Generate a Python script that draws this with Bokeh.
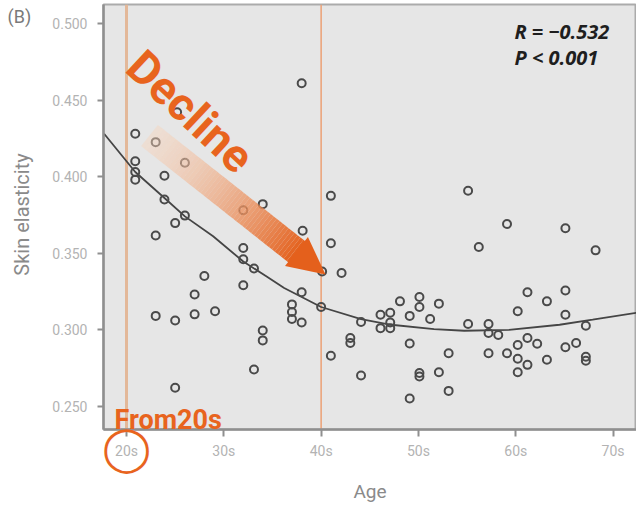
from bokeh.plotting import figure
from bokeh.models import Span, Label, Arrow, NormalHead, FixedTicker, LinearAxis
from bokeh.embed import file_html
from bokeh.resources import INLINE
import math

# ---------------- data ----------------
ages = [20.9, 23.0, 20.9, 26.0, 20.9, 20.9, 23.9, 23.9, 26.0, 25.0,
        23.0, 34.0, 32.0, 32.0, 32.0, 33.1, 28.0, 32.0, 27.0, 23.0,
        25.0, 27.0, 29.1, 34.0, 34.0, 33.1, 25.0, 25.2,
        38.0, 41.0, 38.1, 41.0, 42.1, 40.1, 38.0, 37.0, 37.0, 37.0,
        38.0, 40.0, 44.1, 43.0, 43.0, 41.0, 44.1,
        46.1, 46.1, 47.1, 47.1, 47.1, 48.1, 49.1, 49.1, 50.1, 50.1,
        51.2, 52.1, 50.1, 50.1, 52.1, 53.1, 53.1, 49.1,
        55.1, 56.2, 59.1, 65.1, 68.2, 55.1, 57.2, 57.2, 58.2, 57.2,
        59.1, 60.2, 60.2, 60.2, 60.2, 61.2, 61.2, 61.2, 62.2, 63.2,
        63.2, 65.1, 65.1, 65.1, 66.2, 67.2, 67.2, 67.2]
elasticity = [0.428, 0.4225, 0.410, 0.409, 0.403, 0.398, 0.4005, 0.385, 0.3745, 0.3696,
              0.3615, 0.382, 0.378, 0.3533, 0.346, 0.340, 0.335, 0.329, 0.323, 0.309,
              0.306, 0.310, 0.312, 0.2995, 0.293, 0.274, 0.262, 0.442,
              0.461, 0.3874, 0.3646, 0.3565, 0.337, 0.338, 0.3244, 0.3165, 0.3115, 0.307,
              0.3047, 0.3148, 0.305, 0.2945, 0.2913, 0.283, 0.270,
              0.3097, 0.301, 0.311, 0.3047, 0.301, 0.3185, 0.309, 0.291, 0.3213, 0.3148,
              0.307, 0.317, 0.2717, 0.2694, 0.2722, 0.2846, 0.260, 0.255,
              0.3907, 0.354, 0.369, 0.3663, 0.3518, 0.3037, 0.3037, 0.2978, 0.2965, 0.2846,
              0.2846, 0.312, 0.290, 0.281, 0.2722, 0.3244, 0.2945, 0.277, 0.2908, 0.3185,
              0.2804, 0.3256, 0.3097, 0.2885, 0.2913, 0.3025, 0.2823, 0.2797]

fit_age = [17.7, 20.9, 23.9, 26.0, 28.9, 32.0, 34.4, 36.2, 40.0, 44.1,
           47.2, 51.6, 54.7, 59.3, 64.5, 67.9, 72.4]
fit_val = [0.428, 0.403, 0.386, 0.374, 0.361, 0.3445, 0.3347, 0.3272, 0.3148, 0.3069,
           0.3032, 0.3004, 0.2993, 0.2999, 0.3032, 0.3065, 0.311]

x_ticks = [20, 30, 40, 50, 60, 70]
x_tick_labels = ["20s", "30s", "40s", "50s", "60s", "70s"]
y_ticks = [0.25, 0.30, 0.35, 0.40, 0.45, 0.50]
y_tick_labels = ["0.250", "0.300", "0.350", "0.400", "0.450", "0.500"]
marked_decades = [20, 40]
ringed_ticks = [20]
stats_lines = ["R =  \u22120.532", "P < 0.001"]

# ---------------- figure ----------------
OFF = 1                               # figure origin in the screenshot
FL, FR, FT, FB = 104, 637, 5, 430     # frame edges in screenshot pixels
X0 = 20 - (127 - FL) / 9.732
X1 = 20 + (FR - 127) / 9.732
Y1 = 0.5 + (24 - FT) / 1530.8
Y0 = 0.25 - (FB - 406.7) / 1530.8
W, H = 636, 505
ORANGE = "#e8641e"


def dx(px):
    return X0 + (px - FL) * (X1 - X0) / (FR - FL)


def dy(py):
    return Y1 - (py - FT) * (Y1 - Y0) / (FB - FT)


p = figure(width=W, height=H, x_range=(X0, X1), y_range=(Y0, Y1),
           output_backend="svg", toolbar_location=None,
           min_border_left=FL - OFF, min_border_right=W + OFF - FR,
           min_border_top=FT - OFF, min_border_bottom=H + OFF - FB)

p.background_fill_color = "#e6e6e6"
p.border_fill_color = "white"
p.outline_line_color = "#ababab"
p.outline_line_width = 2
p.grid.visible = False

for ax in (p.xaxis[0], p.yaxis[0]):
    ax.axis_line_color = "#8f8f8f"
    ax.axis_line_width = 2.5
    ax.major_tick_line_color = "#8f8f8f"
    ax.major_tick_line_width = 2
    ax.major_tick_in = 0
    ax.minor_tick_line_color = None
    ax.major_label_text_color = "#b3b3b3"
    ax.major_label_text_font = "Roboto"
    ax.major_label_text_font_size = "14px"

p.xaxis.ticker = FixedTicker(ticks=x_ticks)
p.xaxis.major_label_overrides = dict(zip(x_ticks, x_tick_labels))
p.xaxis.major_tick_out = 7
p.xaxis.major_label_standoff = 6

p.yaxis.ticker = FixedTicker(ticks=y_ticks)
p.yaxis.major_label_overrides = dict(zip(y_ticks, y_tick_labels))
p.yaxis.major_tick_out = 6
p.yaxis.major_label_standoff = 10

# second, line-less axis below: orange ring round the 20s label, plus the "Age" title
ring_axis = LinearAxis(ticker=FixedTicker(ticks=ringed_ticks),
                       major_label_overrides={t: "\u25ef" for t in ringed_ticks},
                       axis_line_color=None, major_tick_line_color=None,
                       minor_tick_line_color=None, major_tick_out=0, major_tick_in=0,
                       major_label_standoff=-40, major_label_text_font="DejaVu Sans",
                       major_label_text_font_size="44px", major_label_text_color=ORANGE,
                       axis_label="Age", axis_label_standoff=4,
                       axis_label_text_font="Roboto", axis_label_text_font_size="19px",
                       axis_label_text_color="#8a8a8a", axis_label_text_font_style="normal")
p.add_layout(ring_axis, "below")

# decade marker lines
for d, col, w in zip(marked_decades, ["#e3b899", "#eba57c"], [3, 1.6]):
    p.add_layout(Span(location=d, dimension="height", line_color=col,
                      line_width=w, level="underlay"))

# fitted curve and points
p.line(fit_age, fit_val, line_color="#454545", line_width=1.8)
p.scatter(ages, elasticity, marker="circle", size=8, fill_color=None,
          line_color="#4a4a4a", line_width=2)

# gradient arrow (annotation)
tail = (150, 136)
tip = (326, 275)
L = math.hypot(tip[0] - tail[0], tip[1] - tail[1])
ux, uy = (tip[0] - tail[0]) / L, (tip[1] - tail[1]) / L
head = 37
base = (tip[0] - head * ux, tip[1] - head * uy)
n = 50
xs0, ys0, xs1, ys1, cols, alphas = [], [], [], [], [], []
c0, c1 = (247, 214, 190), (228, 96, 28)
ex, ey = base[0] + 2 * ux, base[1] + 2 * uy
for i in range(n):
    t0 = i / n
    t1 = (i + 1) / n
    xs0.append(dx(tail[0] + (ex - tail[0]) * t0)); ys0.append(dy(tail[1] + (ey - tail[1]) * t0))
    xs1.append(dx(tail[0] + (ex - tail[0]) * t1)); ys1.append(dy(tail[1] + (ey - tail[1]) * t1))
    tm = ((t0 + t1) / 2) ** 1.2
    r = int(c0[0] + (c1[0] - c0[0]) * tm)
    g = int(c0[1] + (c1[1] - c0[1]) * tm)
    b = int(c0[2] + (c1[2] - c0[2]) * tm)
    cols.append("#%02x%02x%02x" % (r, g, b))
    alphas.append(0.45 + 0.55 * (t0 + t1) / 2)
p.segment(xs0, ys0, xs1, ys1, line_color=cols, line_alpha=alphas,
          line_width=27, line_cap="butt")
p.add_layout(Arrow(end=NormalHead(size=head, fill_color="#e4601c", line_color=None),
                   x_start=dx(base[0] - 4 * ux), y_start=dy(base[1] - 4 * uy),
                   x_end=dx(tip[0]), y_end=dy(tip[1]), line_alpha=0))

p.add_layout(Label(x=dx(191), y=dy(112), text="Decline", angle=-43, angle_units="deg",
                   text_align="center", text_baseline="middle", text_color=ORANGE,
                   text_font="Roboto", text_font_style="bold", text_font_size="46px"))
p.add_layout(Label(x=dx(115), y=dy(420), text="From20s", text_align="left",
                   text_baseline="alphabetic", text_color=ORANGE,
                   text_font="Roboto", text_font_style="bold", text_font_size="27px"))

# stats text
for i, s in enumerate(stats_lines):
    p.add_layout(Label(x=dx(515), y=dy(32 + 26 * i), text=s, text_align="left",
                       text_baseline="middle", text_color="#1e1e1e",
                       text_font="Open Sans", text_font_style="bold italic",
                       text_font_size="20px"))

# texts outside the frame live in the left side panel (not clipped there)
p.add_layout(Label(x=dx(22), y=dy(215), text="Skin elasticity", angle=90, angle_units="deg",
                   text_align="center", text_baseline="middle", text_color="#8a8a8a",
                   text_font="Roboto", text_font_size="20px"), "left")
p.add_layout(Label(x=dx(8), y=dy(16.5), text="(B)", text_align="left",
                   text_baseline="middle", text_color="#7a7a7a",
                   text_font="Roboto", text_font_size="18px"), "left")

open("out.html", "w").write(file_html(p, INLINE))
